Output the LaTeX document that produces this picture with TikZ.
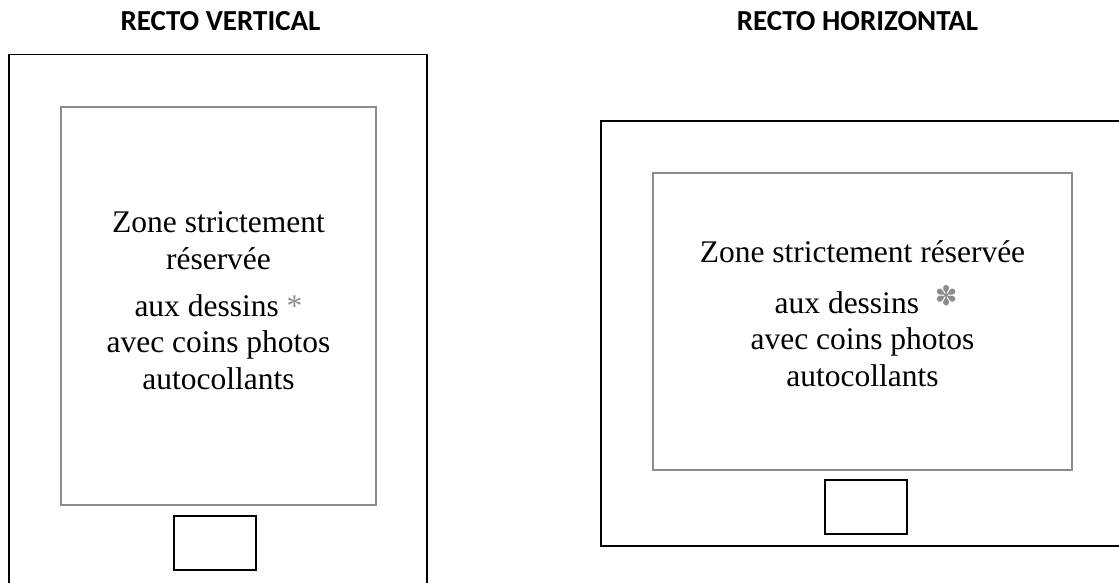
\documentclass[tikz,border=0pt]{standalone}
\usepackage{fontspec}
\setmainfont{Liberation Serif}
\newfontfamily\titlefont{Carlito}
\newfontfamily\dejavu{DejaVu Sans}
\definecolor{zonegray}{HTML}{8C8C8C}
\tikzset{
  outerframe/.style={draw=black, line width=1.6pt},
  zonebox/.style={draw=zonegray, line width=1.5pt},
  smallbox/.style={draw=black, line width=1.6pt},
  titletxt/.style={anchor=base, inner sep=0pt, font=\titlefont\bfseries\fontsize{29}{32}\selectfont},
  bodytxt/.style={anchor=base, inner sep=0pt, font=\fontsize{31.5}{36}\selectfont}
}
\begin{document}
\begin{tikzpicture}[x=1pt, y=-1pt]
\useasboundingbox (0,0) rectangle (1119,582);
\fill[white] (0,0) rectangle (1119,582);

% ---------- RECTO VERTICAL ----------
\node[titletxt] (tv) at (220.5,30) {RECTO VERTICAL};
\draw[outerframe] (9,590) -- (9,54.5) -- (427,54.5) -- (427,590);
\draw[zonebox] (61,107) rectangle (376,505);
\draw[smallbox] (174,516) rectangle (256,570);
\node[bodytxt] (vl1) at (218.5,232) {Zone strictement};
\node[bodytxt] (vl2) at (218.5,269) {réservée};
\node[bodytxt] (vl3) at (218.5,316) {aux dessins \textcolor{zonegray}{*}};
\node[bodytxt] (vl4) at (218.5,352) {avec coins photos};
\node[bodytxt] (vl5) at (218.5,389) {autocollants};

% ---------- RECTO HORIZONTAL ----------
\node[titletxt] (th) at (857.5,30) {RECTO HORIZONTAL};
\draw[outerframe] (1130,121) -- (601,121) -- (601,546) -- (1130,546);
\draw[zonebox] (653,173) rectangle (1072,470);
\draw[smallbox] (825,480) rectangle (907,534);
\node[bodytxt] (hl1) at (862.5,262) {Zone strictement réservée};
\node[bodytxt] (hl2) at (866,313) {aux dessins\hspace{0.5em}\raisebox{8pt}{\textcolor{zonegray}{\dejavu\fontsize{27}{27}\selectfont ✽}}};
\node[bodytxt] (hl3) at (862.5,349) {avec coins photos};
\node[bodytxt] (hl4) at (862.5,386) {autocollants};
\end{tikzpicture}
\end{document}
